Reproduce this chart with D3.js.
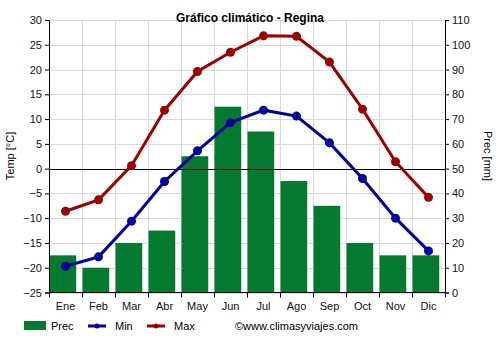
<!DOCTYPE html>
<html>
<head>
<meta charset="utf-8">
<script src="https://cdn.jsdelivr.net/npm/d3@7"></script>
<style>
  html, body { margin: 0; padding: 0; background: #fff; }
  svg { display: block; font-family: Arial, "Liberation Sans", sans-serif; }
</style>
</head>
<body>
<svg id="chart" width="500" height="350"></svg>
<script>
// Monthly climate data for Regina
const months = ["Ene", "Feb", "Mar", "Abr", "May", "Jun", "Jul", "Ago", "Sep", "Oct", "Nov", "Dic"];
const precMm = [15, 10, 20, 25, 55, 75, 65, 45, 35, 20, 15, 15];
const tempMin = [-19.7, -17.8, -10.6, -2.6, 3.6, 9.3, 11.8, 10.6, 5.2, -2.0, -10.0, -16.6];
const tempMax = [-8.6, -6.3, 0.6, 11.8, 19.6, 23.5, 26.8, 26.7, 21.5, 12.0, 1.4, -5.8];
const tempTicks = [-25, -20, -15, -10, -5, 0, 5, 10, 15, 20, 25, 30];
const precTicks = [0, 10, 20, 30, 40, 50, 60, 70, 80, 90, 100, 110];

const svg = d3.select("#chart");
const plotL = 49, plotR = 445, plotT = 20, plotB = 292.5;

const xCell = d3.scaleBand().domain(months).range([plotL, plotR]);
const yT = d3.scaleLinear().domain([-25, 30]).range([plotB, plotT]);
const yP = d3.scaleLinear().domain([0, 110]).range([plotB, plotT]);

const colPrec = "#037a30", colMin = "#00009c", colMax = "#9a0000";

// grid
const grid = svg.append("g").attr("stroke", "#d9d9d9").attr("stroke-width", 1);
tempTicks.forEach(t => {
  grid.append("line").attr("x1", plotL).attr("x2", plotR)
    .attr("y1", Math.round(yT(t)) + 0.5).attr("y2", Math.round(yT(t)) + 0.5);
});
months.forEach((m, i) => {
  if (i === 0) return;
  const xx = Math.round(xCell(m)) + 0.5;
  grid.append("line").attr("x1", xx).attr("x2", xx).attr("y1", plotT).attr("y2", plotB);
});

// precipitation bars
svg.append("g").selectAll("rect").data(precMm).join("rect")
  .attr("x", (d, i) => xCell(months[i]) + 0.5)
  .attr("width", xCell.bandwidth() * 0.81)
  .attr("y", d => yP(d))
  .attr("height", d => plotB - yP(d))
  .attr("fill", colPrec);

// zero line
svg.append("line").attr("x1", plotL).attr("x2", plotR)
  .attr("y1", Math.round(yT(0)) + 0.5).attr("y2", Math.round(yT(0)) + 0.5)
  .attr("stroke", "#000").attr("stroke-width", 1);

// temperature lines
const cx = (i) => xCell(months[i]) + xCell.bandwidth() / 2;
function drawSeries(vals, col) {
  const line = d3.line().x((d, i) => cx(i)).y(d => yT(d));
  svg.append("path").datum(vals).attr("d", line)
    .attr("fill", "none").attr("stroke", col).attr("stroke-width", 3);
  svg.append("g").selectAll("circle").data(vals).join("circle")
    .attr("cx", (d, i) => cx(i)).attr("cy", d => yT(d)).attr("r", 4.5).attr("fill", col);
}
drawSeries(tempMin, colMin);
drawSeries(tempMax, colMax);

// axes
const axL = svg.append("g").attr("transform", `translate(${plotL},0)`)
  .call(d3.axisLeft(yT).tickValues(tempTicks).tickSize(4).tickPadding(3));
const axR = svg.append("g").attr("transform", `translate(${plotR},0)`)
  .call(d3.axisRight(yP).tickValues(precTicks).tickSize(4).tickPadding(3));
const axB = svg.append("g").attr("transform", `translate(0,${plotB})`)
  .call(d3.axisBottom(xCell).tickSize(0).tickPadding(10));
[axL, axR, axB].forEach(a => {
  a.selectAll("text").attr("font-size", 11).attr("fill", "#111").attr("font-family", "Arial, 'Liberation Sans', sans-serif");
  a.selectAll("line").attr("stroke", "#000");
  a.select(".domain").attr("stroke", "#000");
});
axB.select(".domain").remove();
svg.append("line").attr("x1", plotL).attr("x2", plotR).attr("y1", plotB).attr("y2", plotB).attr("stroke", "#000");
// month boundary ticks on the bottom axis
months.concat(["end"]).forEach((m, i) => {
  const xx = Math.round(plotL + i * xCell.bandwidth()) + 0.5;
  svg.append("line").attr("x1", xx).attr("x2", xx).attr("y1", plotB).attr("y2", plotB + 5).attr("stroke", "#000");
});

// title
svg.append("text").attr("x", 250).attr("y", 22).attr("text-anchor", "middle")
  .attr("font-size", 12).attr("font-weight", "bold").text("Gráfico climático - Regina");

// axis titles
svg.append("text").attr("transform", "translate(14,156) rotate(-90)").attr("text-anchor", "middle")
  .attr("font-size", 11).text("Temp [°C]");
svg.append("text").attr("transform", "translate(484,156) rotate(90)").attr("text-anchor", "middle")
  .attr("font-size", 11).text("Prec [mm]");

// legend
const lg = svg.append("g").attr("font-size", 11);
lg.append("rect").attr("x", 24).attr("y", 321).attr("width", 22).attr("height", 9).attr("fill", colPrec);
lg.append("text").attr("x", 51).attr("y", 330).text("Prec");
lg.append("line").attr("x1", 88).attr("x2", 106).attr("y1", 326).attr("y2", 326).attr("stroke", colMin).attr("stroke-width", 3);
lg.append("circle").attr("cx", 97).attr("cy", 326).attr("r", 2.5).attr("fill", colMin);
lg.append("text").attr("x", 115).attr("y", 330).text("Min");
lg.append("line").attr("x1", 147).attr("x2", 165).attr("y1", 326).attr("y2", 326).attr("stroke", colMax).attr("stroke-width", 3);
lg.append("circle").attr("cx", 156).attr("cy", 326).attr("r", 2.5).attr("fill", colMax);
lg.append("text").attr("x", 174).attr("y", 330).text("Max");
lg.append("text").attr("x", 235).attr("y", 330).text("©www.climasyviajes.com");
</script>
</body>
</html>
